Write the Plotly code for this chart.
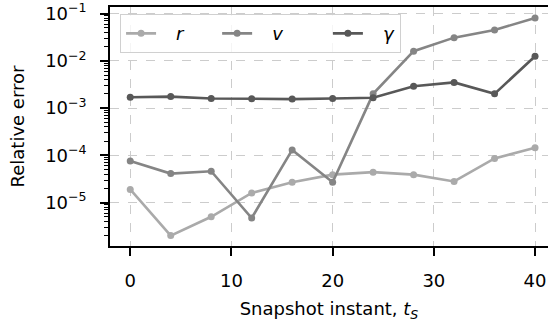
import plotly.graph_objects as go

t_s = [0, 4, 8, 12, 16, 20, 24, 28, 32, 36, 40]
err_r = [1.9e-5, 2.0e-6, 5.0e-6, 1.6e-5, 2.7e-5, 3.9e-5, 4.4e-5, 3.9e-5, 2.8e-5, 8.6e-5, 1.45e-4]
err_v = [7.6e-5, 4.1e-5, 4.6e-5, 4.7e-6, 1.3e-4, 2.7e-5, 2.0e-3, 1.6e-2, 3.1e-2, 4.5e-2, 8.1e-2]
err_g = [1.7e-3, 1.75e-3, 1.6e-3, 1.58e-3, 1.55e-3, 1.6e-3, 1.65e-3, 2.9e-3, 3.5e-3, 2.0e-3, 1.25e-2]

lead = "\u00a0\u00a0\u2009"
series = [(lead + "<i>r</i>" + "\u00a0" * 5, err_r, "#aaaaaa"),
          (lead + "<i>v</i>" + "\u00a0" * 7, err_v, "#858585"),
          (lead + "<i>γ</i>", err_g, "#585858")]

x_ticks = [0, 10, 20, 30, 40]
y_ticks = [1e-5, 1e-4, 1e-3, 1e-2, 1e-1]
y_ticktext = ["10<sup>−5</sup>", "10<sup>−4</sup>", "10<sup>−3</sup>", "10<sup>−2</sup>", "10<sup>−1</sup>"]
minor_vals = [m * 10.0 ** e for e in range(-7, 0) for m in range(2, 10)]

fig = go.Figure()
for name, vals, col in series:
    fig.add_trace(go.Scatter(x=t_s, y=vals, name=name, mode="lines+markers",
                             line=dict(color=col, width=2.6),
                             marker=dict(color=col, size=7)))

font = dict(family="DejaVu Sans", size=18, color="black")
fig.update_layout(
    width=548, height=328,
    margin=dict(l=110, r=0, t=3, b=82),
    plot_bgcolor="white", paper_bgcolor="white",
    font=font,
    showlegend=True,
    legend=dict(orientation="h", x=0.023, y=0.97, xanchor="left", yanchor="top",
                bgcolor="rgba(255,255,255,0.8)", bordercolor="#d0d0d0", borderwidth=1,
                font=dict(family="DejaVu Sans", size=18)),
)
fig.update_xaxes(
    range=[-2, 41.28], tickvals=x_ticks, ticks="outside", ticklen=8, tickwidth=1.5,
    tickcolor="black", showline=True, linecolor="black", linewidth=1.5, mirror=True,
    showgrid=True, gridcolor="#cccccc", griddash="dash", gridwidth=1.2, zeroline=False,
    ticklabelstandoff=10, ticklabeloverflow="allow",
    title=dict(text="Snapshot instant, <i>t<sub>S</sub></i>", standoff=12, font=font),
)
fig.update_yaxes(
    type="log", range=[-5.92, -0.86], tickvals=y_ticks, ticktext=y_ticktext,
    ticks="outside", ticklen=8, tickwidth=1.5, tickcolor="black",
    showline=True, linecolor="black", linewidth=1.5,
    showgrid=True, gridcolor="#cccccc", griddash="dash", gridwidth=1.2, zeroline=False,
    ticklabelstandoff=10, ticklabeloverflow="allow",
    minor=dict(tickvals=minor_vals, ticks="outside", ticklen=4, tickwidth=1, tickcolor="black", showgrid=False),
    title=dict(text="Relative error", standoff=16, font=font),
)
fig.write_html("out.html")
